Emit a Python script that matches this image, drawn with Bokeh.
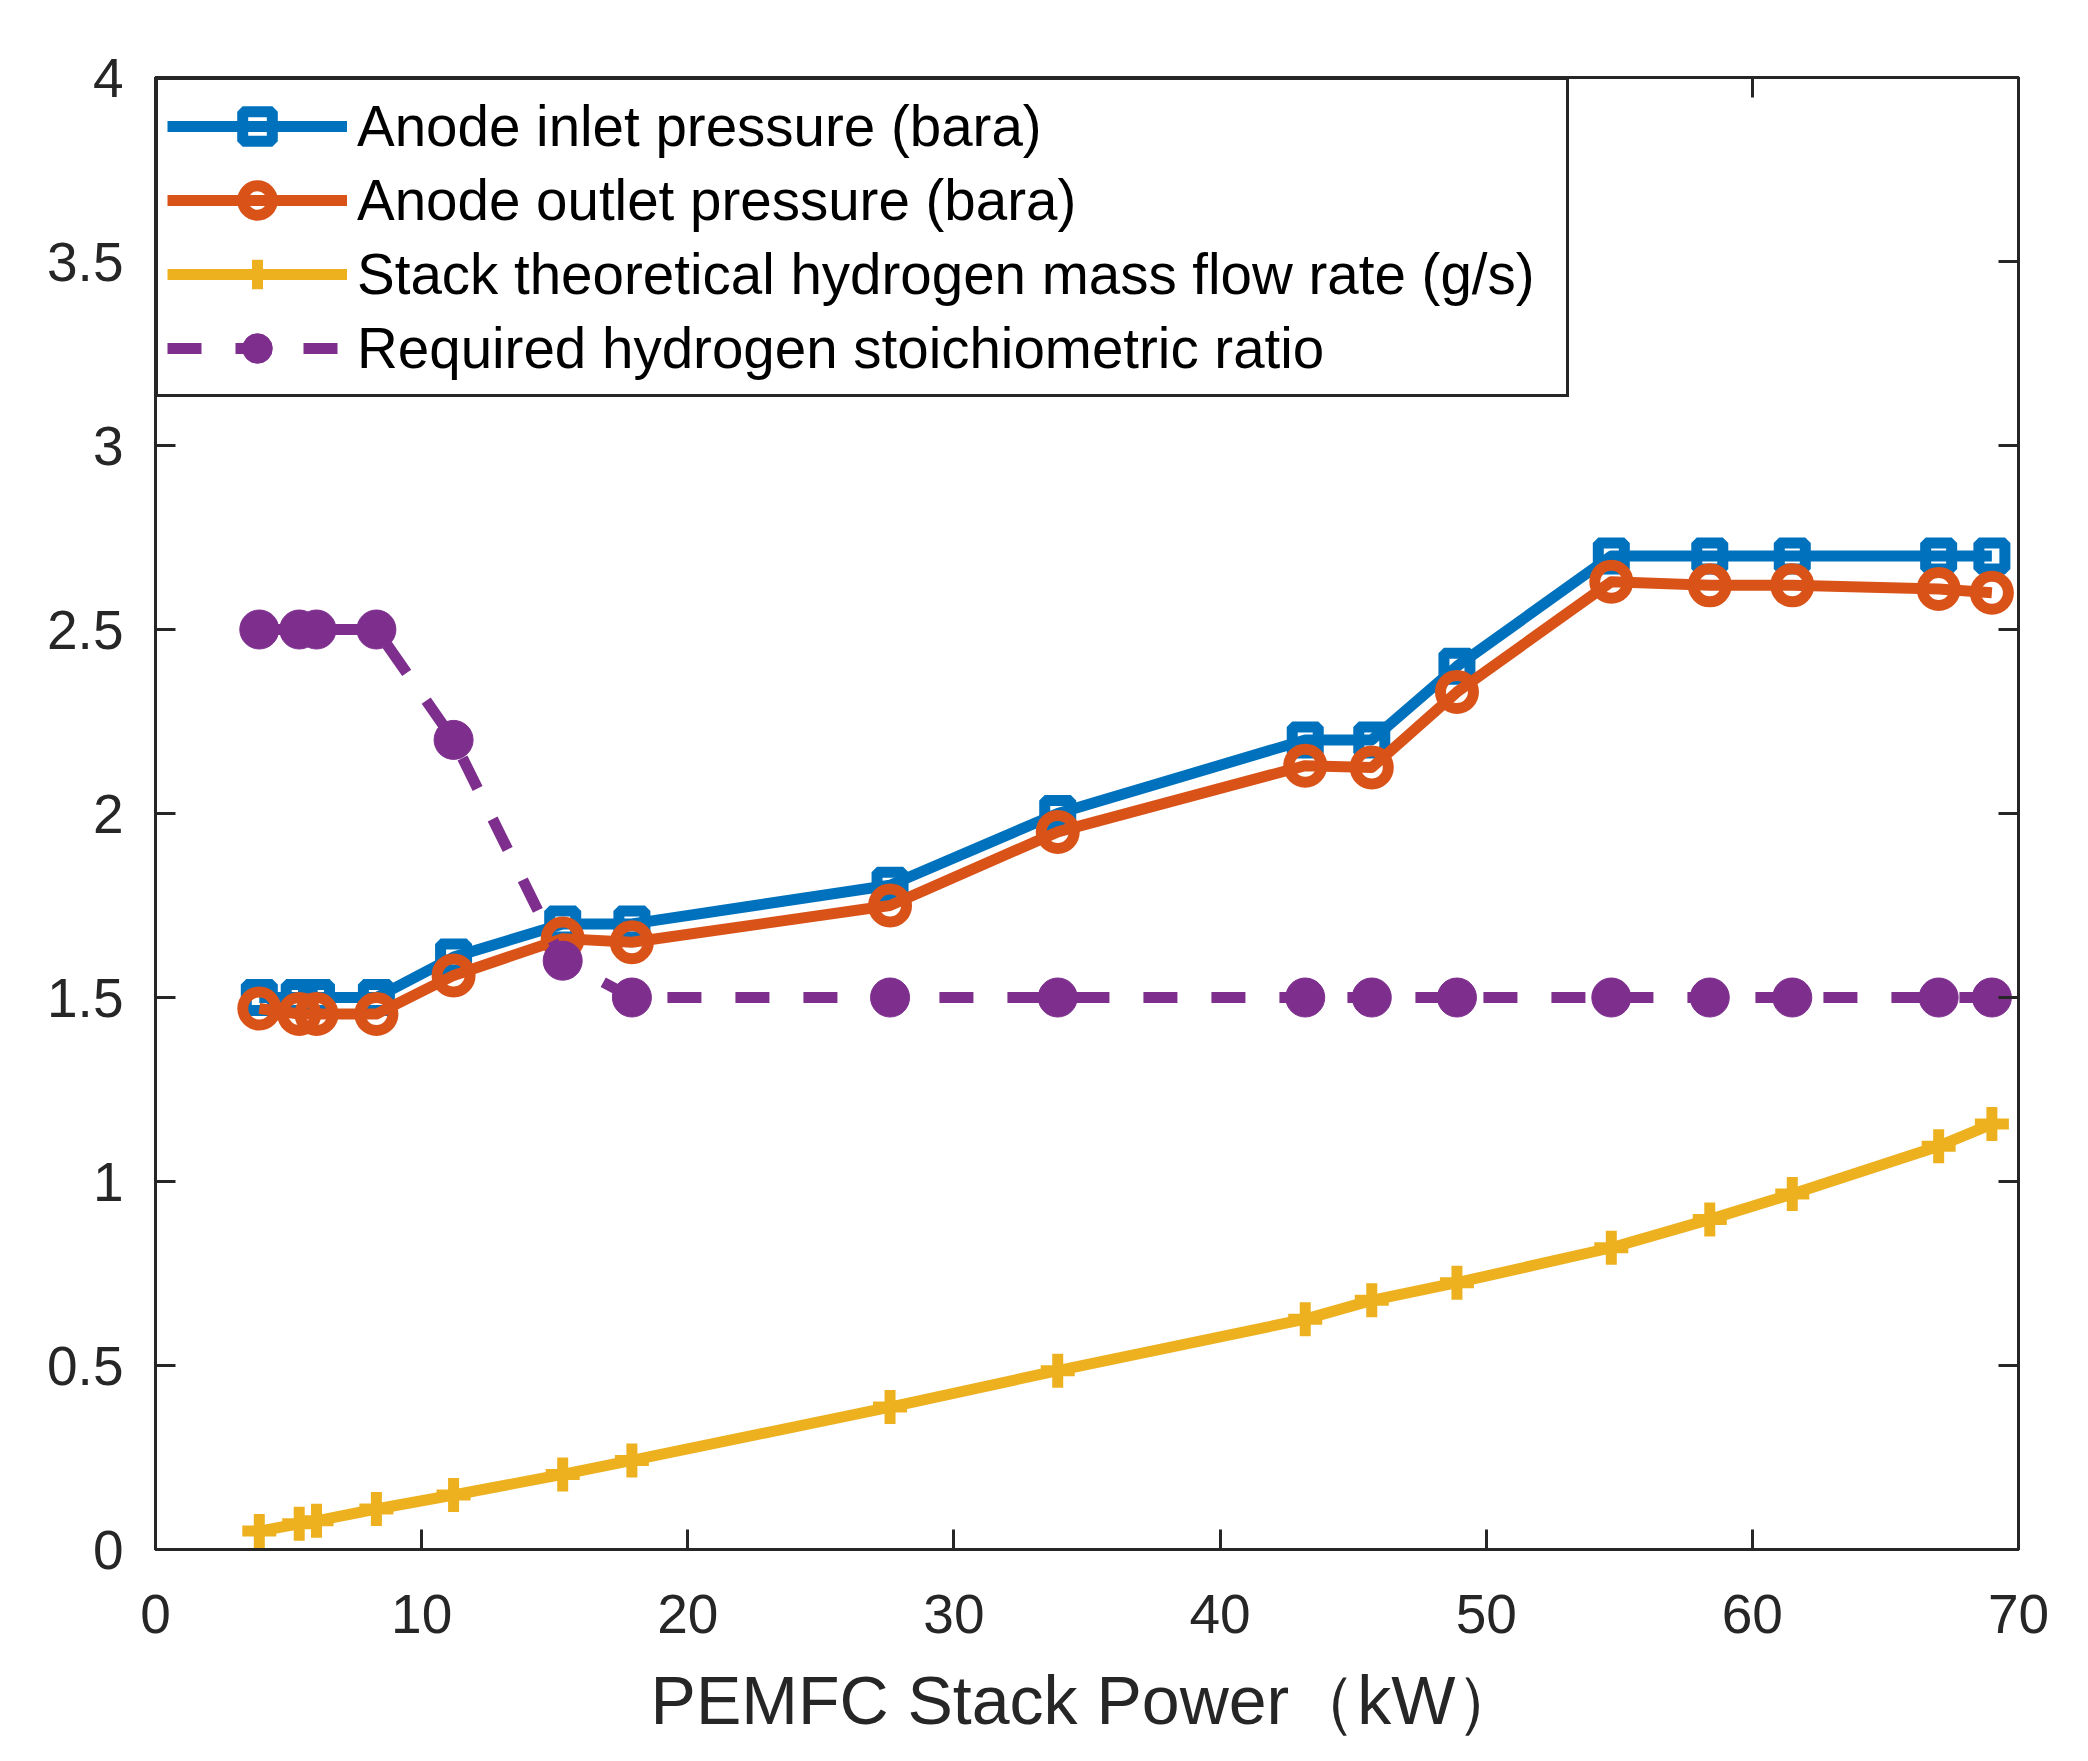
from bokeh.plotting import figure
from bokeh.models import Range1d, LinearAxis, FixedTicker, Legend, LegendItem
from bokeh.embed import file_html
from bokeh.resources import INLINE

# ---- data ----
power_kw = [3.9, 5.4, 6.05, 8.3, 11.2, 15.3, 17.9, 27.6, 33.9, 43.2, 45.7, 48.9, 54.7, 58.4, 61.5, 67.0, 69.0]
anode_inlet = [1.5, 1.5, 1.5, 1.5, 1.61, 1.70, 1.70, 1.805, 2.0, 2.2, 2.2, 2.4, 2.7, 2.7, 2.7, 2.7, 2.7]
anode_outlet = [1.47, 1.455, 1.455, 1.455, 1.56, 1.66, 1.65, 1.75, 1.95, 2.13, 2.125, 2.33, 2.63, 2.62, 2.62, 2.61, 2.60]
h2_flow = [0.05, 0.07, 0.078, 0.11, 0.148, 0.204, 0.242, 0.387, 0.486, 0.626, 0.677, 0.725, 0.82, 0.897, 0.966, 1.096, 1.156]
stoich = [2.5, 2.5, 2.5, 2.5, 2.2, 1.6, 1.5, 1.5, 1.5, 1.5, 1.5, 1.5, 1.5, 1.5, 1.5, 1.5, 1.5]

labels = ["Anode inlet pressure (bara)",
          "Anode outlet pressure (bara)",
          "Stack theoretical hydrogen mass flow rate (g/s)",
          "Required hydrogen stoichiometric ratio"]
x_ticks = [0, 10, 20, 30, 40, 50, 60, 70]
y_ticks = [0, 0.5, 1, 1.5, 2, 2.5, 3, 3.5, 4]
y_tick_text = ["0", "0.5", "1", "1.5", "2", "2.5", "3", "3.5", "4"]
x_title = "PEMFC Stack Power（kW）"

BLUE, ORANGE, YELLOW, PURPLE = "#0072BD", "#D95319", "#EDB120", "#7E2F8E"
AX = "#262626"
FONT = "Liberation Sans"
LW = 11

p = figure(width=2072, height=1740,
           x_range=Range1d(0, 70), y_range=Range1d(0, 4),
           output_backend="svg", toolbar_location=None,
           min_border_left=155, min_border_right=54,
           min_border_top=77, min_border_bottom=190)
p.background_fill_color = "white"
p.border_fill_color = "white"
p.xgrid.visible = False
p.ygrid.visible = False
p.outline_line_color = AX
p.outline_line_width = 3
p.outline_line_alpha = 1.0

def style_axis(ax, ticks, show_labels=True, tick_len=20):
    ax.ticker = FixedTicker(ticks=ticks)
    ax.axis_line_color = AX
    ax.axis_line_width = 3
    ax.major_tick_line_color = AX
    ax.major_tick_line_width = 3
    ax.major_tick_in = tick_len
    ax.major_tick_out = 0
    ax.minor_tick_line_color = None
    ax.major_label_text_color = AX
    ax.major_label_text_font = FONT
    if show_labels:
        ax.major_label_text_font_size = "55px"
    else:
        ax.major_label_text_font_size = "0px"
        ax.major_label_text_alpha = 0

xax = p.xaxis[0]
yax = p.yaxis[0]
style_axis(xax, x_ticks)
style_axis(yax, y_ticks)
xax.major_label_standoff = 45
yax.major_label_standoff = 32
yax.major_label_overrides = {t: s for t, s in zip(y_ticks, y_tick_text)}
xax.axis_label = x_title
xax.axis_label_text_font = FONT
xax.axis_label_text_font_size = "68px"
xax.axis_label_text_font_style = "normal"
xax.axis_label_text_color = AX
xax.axis_label_standoff = 26

top = LinearAxis()
style_axis(top, x_ticks, show_labels=False)
p.add_layout(top, "above")
right = LinearAxis()
style_axis(right, y_ticks, show_labels=False)
p.add_layout(right, "right")

# series
l1 = p.line(power_kw, anode_inlet, line_color=BLUE, line_width=LW, line_join="round")
m1 = p.scatter(power_kw, anode_inlet, marker="square", size=26, line_color=BLUE,
               line_width=LW, fill_alpha=0)
l2 = p.line(power_kw, anode_outlet, line_color=ORANGE, line_width=LW, line_join="round")
m2 = p.scatter(power_kw, anode_outlet, marker="circle", size=33, line_color=ORANGE,
               line_width=LW, fill_alpha=0)
l3 = p.line(power_kw, h2_flow, line_color=YELLOW, line_width=LW, line_join="round")
m3 = p.scatter(power_kw, h2_flow, marker="cross", size=34, line_color=YELLOW, line_width=LW)
l4 = p.line(power_kw, stoich, line_color=PURPLE, line_width=LW, line_dash="34 34")
m4 = p.scatter(power_kw, stoich, marker="circle", size=39, line_color=PURPLE,
               fill_color=PURPLE, line_width=1)

legend = Legend(items=[LegendItem(label=labels[0], renderers=[l1, m1]),
                       LegendItem(label=labels[1], renderers=[l2, m2]),
                       LegendItem(label=labels[2], renderers=[l3, m3]),
                       LegendItem(label=labels[3], renderers=[l4, m4])],
                location="top_left")
legend.margin = 0
legend.padding = 9
legend.spacing = 0
legend.label_height = 74
legend.glyph_height = 74
legend.glyph_width = 180
legend.label_width = 1200
legend.label_standoff = 10
legend.label_text_font = FONT
legend.label_text_font_size = "56.5px"
legend.label_text_color = "black"
legend.border_line_color = AX
legend.border_line_width = 3
legend.border_line_alpha = 1.0
legend.background_fill_color = "white"
legend.background_fill_alpha = 1.0
p.add_layout(legend)

open("out.html", "w").write(file_html(p, INLINE))
